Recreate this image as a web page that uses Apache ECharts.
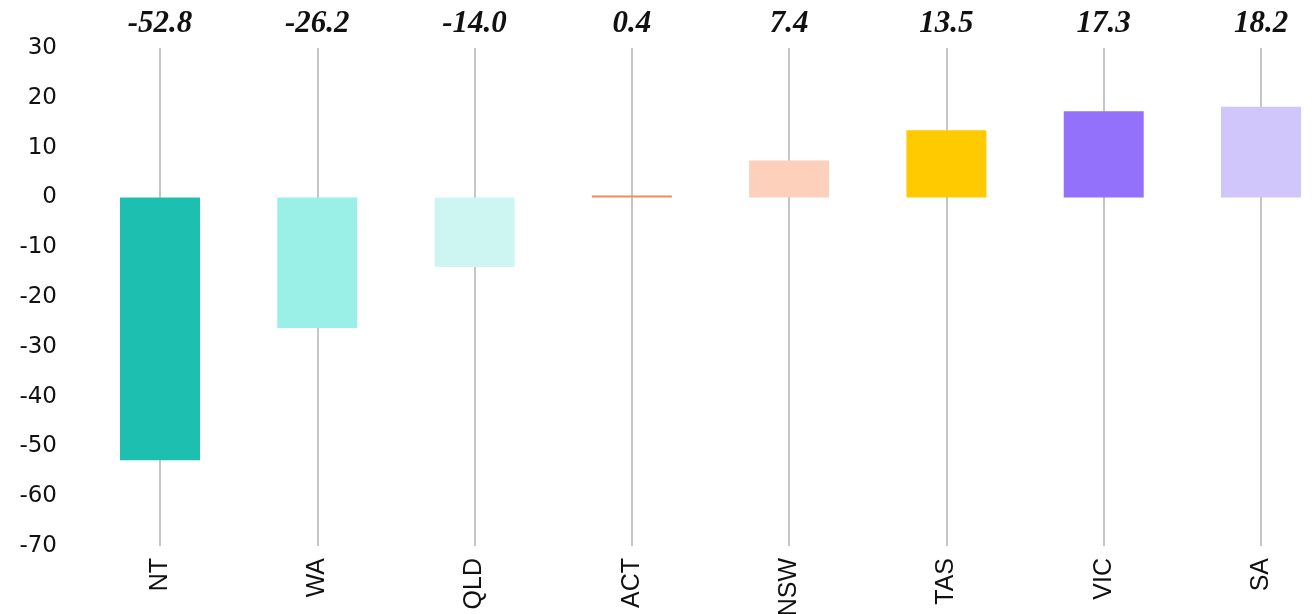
<!DOCTYPE html>
<html>
<head>
<meta charset="utf-8">
<script src="https://cdn.jsdelivr.net/npm/echarts@6/dist/echarts.min.js"></script>
<style>
  html, body { margin: 0; padding: 0; background: #ffffff; }
  #chart { width: 1314px; height: 614px; }
</style>
</head>
<body>
<div id="chart"></div>
<script>
// States and territories, ordered from the largest fall to the largest rise
const states = ['NT', 'WA', 'QLD', 'ACT', 'NSW', 'TAS', 'VIC', 'SA'];
const changes = [-52.8, -26.2, -14.0, 0.4, 7.4, 13.5, 17.3, 18.2];
const barColors = ['#1dbfb0', '#9af0e6', '#cdf6f3', '#f08c55', '#fdd0bc', '#ffcb00', '#9471fb', '#d1c6fc'];
const yTicks = [-70, -60, -50, -40, -30, -20, -10, 0, 10, 20, 30];

const chart = echarts.init(document.getElementById('chart'), null, { renderer: 'canvas' });

chart.setOption({
  animation: false,
  backgroundColor: '#ffffff',
  grid: {
    left: 160, right: 53, top: 48, bottom: 68,
    containLabel: false,
    outerBoundsMode: 'none'
  },
  xAxis: [
    {
      type: 'category',
      data: states,
      boundaryGap: false,
      position: 'bottom',
      axisLine: { show: false },
      axisTick: { show: false },
      axisLabel: {
        rotate: 90,
        margin: 12,
        fontFamily: 'Liberation Sans, Arial, sans-serif',
        fontSize: 25,
        color: '#111111'
      },
      splitLine: { show: true, lineStyle: { color: '#c6c6c6', width: 2 } }
    },
    {
      // value readouts above each column
      type: 'category',
      data: changes.map(v => v.toFixed(1)),
      boundaryGap: false,
      position: 'top',
      axisLine: { show: false },
      axisTick: { show: false },
      splitLine: { show: false },
      axisLabel: {
        margin: 9,
        fontFamily: 'Liberation Serif, Times New Roman, serif',
        fontStyle: 'italic',
        fontWeight: 'bold',
        fontSize: 31,
        color: '#111111'
      }
    }
  ],
  yAxis: {
    type: 'value',
    min: yTicks[0],
    max: yTicks[yTicks.length - 1],
    interval: 10,
    axisLine: { show: false },
    axisTick: { show: false },
    splitLine: { show: false },
    axisLabel: {
      margin: 103,
      align: 'right',
      fontFamily: 'DejaVu Sans, sans-serif',
      fontSize: 23,
      color: '#111111'
    }
  },
  series: [
    {
      type: 'bar',
      xAxisIndex: 0,
      barWidth: 80,
      data: changes.map((v, i) => ({ value: v, itemStyle: { color: barColors[i] } }))
    }
  ]
});
</script>
</body>
</html>
